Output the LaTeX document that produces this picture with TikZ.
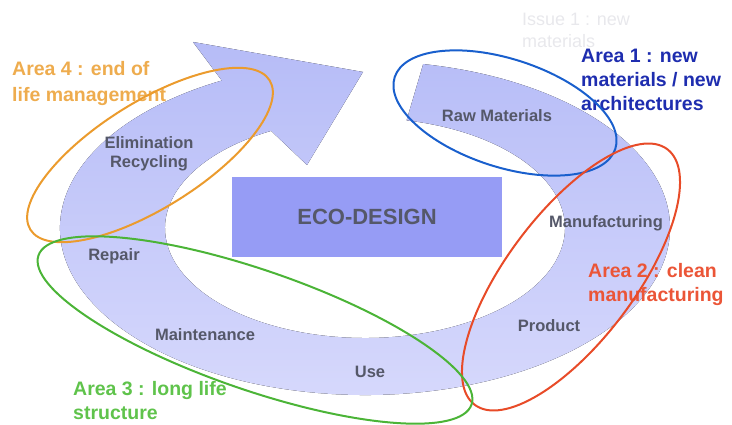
\documentclass[tikz,border=0pt]{standalone}
\usepackage{fontspec}
\setmainfont{Liberation Sans}
\usetikzlibrary{shapes.geometric}
\definecolor{BandTop}{RGB}{182,188,247}
\definecolor{BandLow}{RGB}{215,217,252}
\definecolor{BoxBlue}{RGB}{150,156,245}
\definecolor{StepGray}{RGB}{85,88,105}
\definecolor{GhostGray}{RGB}{232,232,236}
\definecolor{AreaOrange}{RGB}{235,155,45}
\definecolor{AreaBlue}{RGB}{25,95,205}
\definecolor{AreaRed}{RGB}{232,75,40}
\definecolor{AreaGreen}{RGB}{75,180,55}
\definecolor{TextOrange}{RGB}{238,172,78}
\definecolor{TextBlue}{RGB}{30,45,175}
\definecolor{TextRed}{RGB}{235,85,55}
\definecolor{TextGreen}{RGB}{95,195,75}

\begin{document}
\begin{tikzpicture}[
    x=1pt, y=-1pt,
    stage/.style={inner sep=0pt, text=StepGray, align=center, font=\fontsize{16.5}{19}\selectfont\bfseries},
    ring/.style={draw, ellipse, line width=2pt, inner sep=0pt},
    arealabel/.style={anchor=north west, inner sep=0pt, align=left, font=\fontsize{19.5}{24}\selectfont\bfseries}
]
\useasboundingbox (0,0) rectangle (732,425);
\coordinate (c) at (365,228);
% life cycle arrow
\fill[top color=BandTop, bottom color=BandLow]
    ([shift={(-79:305 and 167)}]c) arc[start angle=-79, end angle=242, x radius=305, y radius=167]
    -- (193,42) -- (363,72) -- (307,165)
    -- ([shift={(242:200 and 110)}]c) arc[start angle=242, end angle=-78, x radius=200, y radius=110]
    -- cycle;
\node[inner sep=0pt, anchor=north west, align=left, text=GhostGray, font=\fontsize{18}{22}\selectfont] (ghost) at (522,13) {Issue 1 : new\\materials};
\node[fill=BoxBlue, minimum width=270pt, minimum height=80pt, text=StepGray, font=\fontsize{22}{26}\selectfont\bfseries] (eco) at (367,217) {ECO-DESIGN};
% stages
\node[stage] (raw) at (497,116) {Raw Materials};
\node[stage] (manuf) at (606,223) {Manufacturing};
\node[stage] (product) at (549,326) {Product};
\node[stage] (use) at (370,372) {Use};
\node[stage] (maint) at (205,335) {Maintenance};
\node[stage] (repair) at (114,256) {Repair};
\node[stage] (elim) at (149,154) {Elimination\\Recycling};
% areas
\node[arealabel, text=TextOrange, font=\fontsize{19.5}{26}\selectfont\bfseries] (lbl4) at (12,61) {Area 4 : end of\\life management};
\node[arealabel, text=TextBlue] (lbl1) at (581,49) {Area 1 : new\\materials / new\\architectures};
\node[arealabel, text=TextRed] (lbl2) at (588,263) {Area 2 : clean\\manufacturing};
\node[arealabel, text=TextGreen] (lbl3) at (73,381) {Area 3 : long life\\structure};
\node[ring, draw=AreaOrange, rotate=32, minimum width=282pt, minimum height=106pt] (area4) at (150,155) {};
\node[ring, draw=AreaBlue, rotate=-18, minimum width=232pt, minimum height=108pt] (area1) at (505,113) {};
\node[ring, draw=AreaRed, rotate=53, minimum width=320pt, minimum height=128pt] (area2) at (571,277) {};
\node[ring, draw=AreaGreen, rotate=-19, minimum width=458pt, minimum height=120pt] (area3) at (255,330) {};
\end{tikzpicture}
\end{document}
